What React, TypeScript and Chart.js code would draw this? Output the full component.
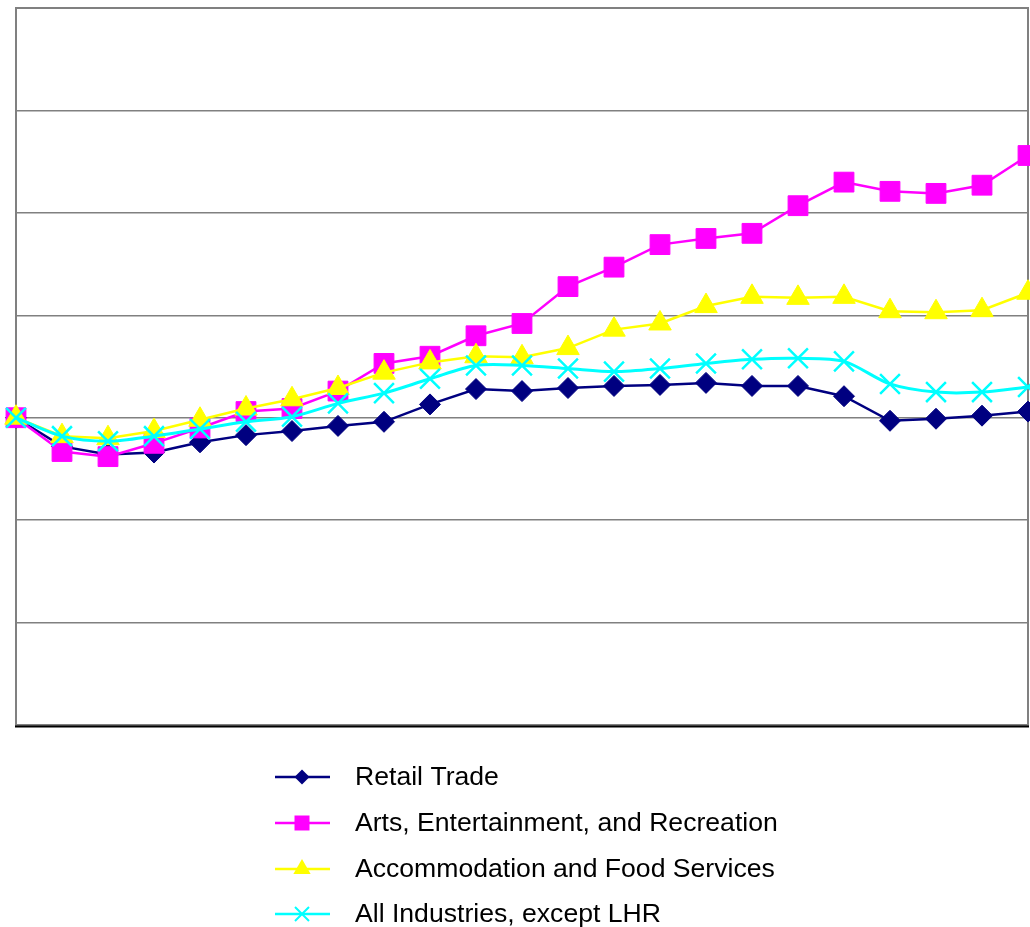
import React, { useEffect, useRef } from "react";
import { Chart, registerables } from "chart.js";

Chart.register(...registerables);

const categories = ["1", "2", "3", "4", "5", "6", "7", "8", "9", "10", "11", "12", "13", "14", "15", "16", "17", "18", "19", "20", "21", "22", "23"];

const retailTrade = [100, 97.2, 96.4, 96.6, 97.6, 98.3, 98.7, 99.2, 99.6, 101.3, 102.8, 102.6, 102.9, 103.1, 103.2, 103.4, 103.1, 103.1, 102.1, 99.7, 99.9, 100.2, 100.6];
const artsEntertainment = [100, 96.7, 96.2, 97.5, 99.0, 100.6, 100.9, 102.6, 105.3, 106.0, 108.0, 109.2, 112.8, 114.7, 116.9, 117.5, 118.0, 120.7, 123.0, 122.1, 121.9, 122.7, 125.6];
const accommodationFood = [100, 98.2, 98.0, 98.7, 99.8, 100.9, 101.8, 102.9, 104.4, 105.4, 106.0, 105.9, 106.8, 108.6, 109.2, 110.9, 111.8, 111.7, 111.8, 110.4, 110.3, 110.5, 112.2];
const allIndustries = [100, 98.2, 97.7, 98.2, 98.9, 99.6, 100.1, 101.4, 102.4, 103.8, 105.1, 105.1, 104.8, 104.5, 104.8, 105.3, 105.7, 105.8, 105.5, 103.3, 102.5, 102.5, 103.0];

const seriesNames = ["Retail Trade", "Arts, Entertainment, and Recreation", "Accommodation and Food Services", "All Industries, except LHR"];

const yMin = 70;
const yMax = 140;
const yStep = 10;

function drawMarker(ctx: CanvasRenderingContext2D, style: string, x: number, y: number, color: string) {
  ctx.save();
  ctx.fillStyle = color;
  ctx.strokeStyle = color;
  ctx.beginPath();
  if (style === "rectRot") {
    const r = 7.5;
    ctx.moveTo(x - r, y);
    ctx.lineTo(x, y - r);
    ctx.lineTo(x + r, y);
    ctx.lineTo(x, y + r);
    ctx.closePath();
    ctx.fill();
  } else if (style === "rect") {
    const h = 7.5;
    ctx.rect(x - h, y - h, 2 * h, 2 * h);
    ctx.fill();
  } else if (style === "triangle") {
    const r = 10;
    ctx.moveTo(x, y - r);
    ctx.lineTo(x + r * 0.866, y + r / 2);
    ctx.lineTo(x - r * 0.866, y + r / 2);
    ctx.closePath();
    ctx.fill();
  } else {
    const h = 7;
    ctx.lineWidth = 2;
    ctx.moveTo(x - h, y - h);
    ctx.lineTo(x + h, y + h);
    ctx.moveTo(x + h, y - h);
    ctx.lineTo(x - h, y + h);
    ctx.stroke();
  }
  ctx.restore();
}

const frameAndLegend = {
  id: "frameAndLegend",
  beforeDatasetsDraw(chart: any) {
    const { ctx, chartArea } = chart;
    const { left, right, top, bottom } = chartArea;
    ctx.save();
    ctx.strokeStyle = "#808080";
    ctx.lineWidth = 2;
    ctx.strokeRect(left, top, right - left, bottom - top);
    ctx.strokeStyle = "#000000";
    ctx.lineWidth = 2;
    ctx.beginPath();
    ctx.moveTo(left - 1, bottom + 1.5);
    ctx.lineTo(right + 1, bottom + 1.5);
    ctx.stroke();
    ctx.restore();
  },
  afterDraw(chart: any) {
    const { ctx } = chart;
    const rowY = [777, 823, 869, 914];
    chart.data.datasets.forEach((ds: any, i: number) => {
      const y = rowY[i];
      ctx.save();
      ctx.strokeStyle = ds.borderColor;
      ctx.lineWidth = 2.5;
      ctx.beginPath();
      ctx.moveTo(275, y);
      ctx.lineTo(330, y);
      ctx.stroke();
      ctx.restore();
      drawMarker(ctx, ds.pointStyle, 302, y, ds.borderColor);
      ctx.save();
      ctx.fillStyle = "#000000";
      ctx.font = '26.6px "Liberation Sans", Arial, sans-serif';
      ctx.textBaseline = "middle";
      ctx.textAlign = "left";
      ctx.fillText(ds.label, 355, y + 1);
      ctx.restore();
    });
  },
};

export default function App() {
  const canvasRef = useRef<HTMLCanvasElement | null>(null);

  useEffect(() => {
    if (!canvasRef.current) return;
    const chart = new Chart(canvasRef.current, {
      type: "line",
      data: {
        labels: categories,
        datasets: [
          {
            label: seriesNames[0],
            data: retailTrade,
            borderColor: "#000080",
            backgroundColor: "#000080",
            borderWidth: 2.5,
            pointStyle: "rectRot",
            pointRadius: 10.5,
            pointBorderWidth: 1,
            tension: 0,
            order: 4,
          },
          {
            label: seriesNames[1],
            data: artsEntertainment,
            borderColor: "#FF00FF",
            backgroundColor: "#FF00FF",
            borderWidth: 2.5,
            pointStyle: "rect",
            pointRadius: 14,
            pointBorderWidth: 1,
            tension: 0,
            order: 3,
          },
          {
            label: seriesNames[2],
            data: accommodationFood,
            borderColor: "#FFFF00",
            backgroundColor: "#FFFF00",
            borderWidth: 2.5,
            pointStyle: "triangle",
            pointRadius: 13,
            pointBorderWidth: 1,
            tension: 0,
            order: 2,
          },
          {
            label: seriesNames[3],
            data: allIndustries,
            borderColor: "#00FFFF",
            backgroundColor: "#00FFFF",
            borderWidth: 3,
            pointStyle: "crossRot",
            pointRadius: 14,
            pointBorderWidth: 2.5,
            tension: 0.3,
            order: 1,
          },
        ],
      },
      options: {
        responsive: false,
        animation: false,
        devicePixelRatio: 1,
        layout: { autoPadding: false, padding: { left: 16, top: 8, right: 2, bottom: 202 } },
        plugins: { legend: { display: false }, tooltip: { enabled: false } },
        elements: { line: { fill: false }, point: { hoverRadius: 10 } },
        scales: {
          x: {
            type: "category",
            offset: false,
            grid: { display: false, drawTicks: false },
            border: { display: false },
            ticks: { display: false },
          },
          y: {
            min: yMin,
            max: yMax,
            ticks: { display: false, stepSize: yStep },
            grid: { color: "#808080", lineWidth: 1.5, drawTicks: false },
            border: { display: false },
          },
        },
      },
      plugins: [frameAndLegend],
    });
    return () => chart.destroy();
  }, []);

  return (
    <div style={{ position: "absolute", left: 0, top: 0, width: 1030, height: 927, background: "#ffffff" }}>
      <canvas ref={canvasRef} width={1030} height={927} style={{ display: "block" }} />
    </div>
  );
}
